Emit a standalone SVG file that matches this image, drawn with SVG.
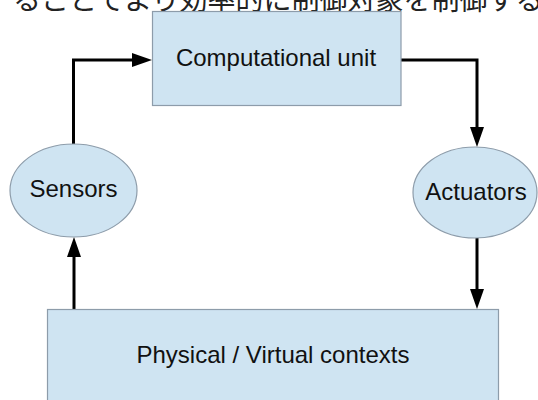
<svg xmlns="http://www.w3.org/2000/svg" width="538" height="400" viewBox="0 0 538 400">
  <style>
    .box { fill: #cfe4f2; stroke: #8d9caa; stroke-width: 1.2; }
    .lbl { font-family: "Liberation Sans", Arial, sans-serif; font-size: 24px; fill: #111; text-anchor: middle; }
    .conn { fill: none; stroke: #000; stroke-width: 3; }
    .jp { font-family: "Noto Sans CJK JP", "Noto Sans CJK SC", sans-serif; font-size: 28px; fill: #222; }
  </style>
  <defs>
    <marker id="arrow" markerUnits="userSpaceOnUse" markerWidth="20" markerHeight="14" refX="0" refY="7" orient="auto" overflow="visible">
      <path d="M0,0 L20,7 L0,14 z" fill="#000"/>
    </marker>
  </defs>
  <rect width="538" height="400" fill="#fff"/>
  <text class="jp" x="13" y="10">ることでより効率的に制御対象を制御する</text>

  <g id="connectors">
    <path class="conn" d="M73.5 144 V60 H132" marker-end="url(#arrow)"/>
    <path class="conn" d="M401 60 H477 V127" marker-end="url(#arrow)"/>
    <path class="conn" d="M477 238 V289" marker-end="url(#arrow)"/>
    <path class="conn" d="M74 309 V257" marker-end="url(#arrow)"/>
  </g>

  <g id="computational-unit">
    <rect class="box" x="152.5" y="11.5" width="248.5" height="94"/>
    <text class="lbl" x="276" y="66">Computational unit</text>
  </g>
  <g id="sensors">
    <ellipse class="box" cx="73.5" cy="190.5" rx="63.5" ry="46.5"/>
    <text class="lbl" x="73.5" y="197">Sensors</text>
  </g>
  <g id="actuators">
    <ellipse class="box" cx="475" cy="192.5" rx="62" ry="45.5"/>
    <text class="lbl" x="476" y="200">Actuators</text>
  </g>
  <g id="physical-virtual-contexts">
    <rect class="box" x="47.5" y="309.5" width="451" height="100"/>
    <text class="lbl" x="273" y="363">Physical / Virtual contexts</text>
  </g>
</svg>
